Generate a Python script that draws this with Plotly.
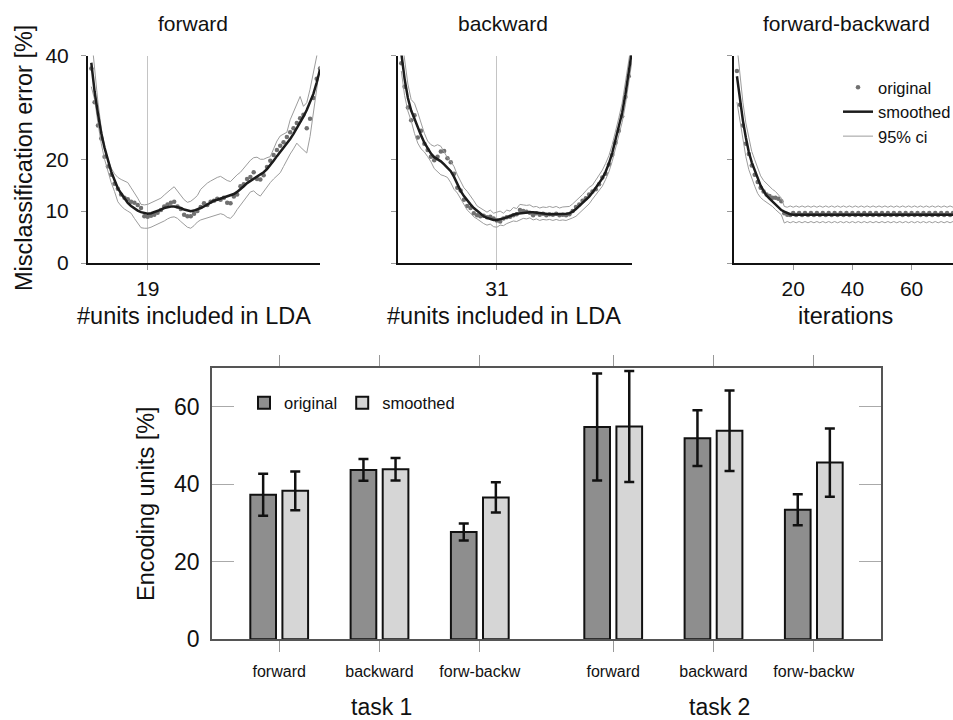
import plotly.graph_objects as go

# ---------------- data: top panels ----------------
fw_units = list(range(2, 72))
fw_original = [37.5, 31.0, 26.5, 24.0, 20.5, 18.6, 17.0, 15.3, 14.3, 13.2,
               12.6, 12.3, 11.8, 11.6, 11.2, 10.6, 9.0, 8.9, 9.1, 9.3,
               9.7, 10.2, 10.9, 11.3, 11.6, 11.8, 10.9, 10.4, 9.3, 9.0,
               9.0, 9.5, 10.0, 10.8, 11.5, 11.2, 11.8, 12.0, 12.4, 12.2,
               12.6, 11.6, 11.5, 12.8, 13.2, 14.8, 15.2, 16.2, 16.6, 17.5,
               16.2, 16.1, 16.9, 18.5, 19.7, 20.8, 21.8, 22.6, 23.3, 24.3,
               25.2, 26.0, 27.0, 27.9, 28.6, 26.0, 27.8, 31.8, 35.5, 37.5]
fw_smoothed = [38.6, 33.0, 28.8, 25.0, 22.2, 19.8, 17.6, 16.0, 14.4, 13.4,
               12.4, 11.6, 11.0, 10.5, 10.1, 9.8, 9.6, 9.5, 9.6, 9.8,
               10.0, 10.3, 10.6, 10.8, 10.9, 10.9, 10.8, 10.6, 10.3, 10.1,
               10.0, 10.1, 10.3, 10.6, 10.9, 11.3, 11.7, 12.0, 12.2, 12.4,
               12.6, 12.8, 13.0, 13.3, 13.7, 14.2, 14.8, 15.4, 15.8, 16.2,
               16.6, 17.0, 17.5, 18.1, 18.8, 19.7, 20.6, 21.4, 22.2, 23.0,
               23.9, 24.9, 26.0, 27.0, 28.2, 29.5, 30.9, 32.6, 34.8, 37.3]
fw_ci_upper = [44.0, 37.0, 31.0, 26.0, 22.5, 20.0, 18.3, 17.2, 16.5, 16.1,
               15.8, 15.5, 14.5, 13.6, 12.5, 11.3, 11.2, 11.3, 11.6, 11.9,
               12.2, 12.5, 13.1, 13.7, 14.2, 14.7, 13.8, 12.9, 12.2, 11.7,
               11.9, 12.4, 13.0, 14.2, 14.8, 15.4, 15.8, 16.2, 16.5, 16.7,
               16.3, 15.9, 15.7, 16.4, 17.0, 17.5, 18.3, 19.2, 19.8, 20.3,
               20.4, 20.0, 20.0, 20.3, 20.5, 22.0, 23.5, 24.5, 24.8, 25.2,
               27.6, 29.2, 30.8, 32.1, 30.2, 30.9, 33.5, 36.5, 39.9, 43.0]
fw_ci_lower = [34.0, 31.5, 27.0, 23.0, 20.0, 17.5, 15.5, 13.8, 11.8, 11.0,
               10.4, 10.0, 9.6, 8.6, 7.6, 6.8, 6.7, 6.7, 6.9, 7.2,
               7.5, 7.7, 8.1, 8.5, 8.8, 8.9, 8.6, 8.0, 7.4, 6.9,
               6.7, 7.2, 7.9, 8.3, 8.5, 8.7, 8.9, 9.1, 9.3, 9.5,
               9.3, 8.8, 8.6, 9.3, 10.3, 11.2, 12.1, 13.0, 13.7, 13.9,
               13.3, 12.9, 13.8, 14.8, 15.5, 16.2, 16.8, 17.4, 18.6, 19.9,
               21.0, 22.0, 23.1, 22.4, 21.8, 21.2, 24.4, 29.0, 34.0, 38.0]

bw_units = list(range(2, 73))
bw_original = [38.5, 34.0, 30.0, 27.5, 28.5, 24.2, 25.5, 23.0, 21.8, 20.5,
               19.8, 20.5, 21.5, 21.6, 20.2, 19.4, 17.2, 14.5, 14.0, 12.2,
               11.0, 10.6, 9.6, 9.2, 9.0, 9.1, 8.8, 8.9, 8.6, 8.2,
               8.0, 8.6, 8.8, 8.9, 9.2, 9.4, 10.2, 10.0, 9.9, 9.7,
               9.2, 9.6, 9.3, 9.5, 9.2, 9.4, 9.3, 9.5, 9.2, 9.3,
               9.2, 9.4, 10.0, 10.8, 11.3, 12.0, 12.5, 13.2, 13.8, 14.2,
               15.2, 16.5, 17.2, 19.0, 20.8, 23.2, 25.5, 28.3, 32.0, 36.0,
               40.0]
bw_smoothed = [40.5, 35.5, 31.8, 29.4, 27.8, 26.0, 24.6, 23.2, 22.0, 21.1,
               20.4, 20.0, 19.6, 19.0, 18.4, 17.7, 16.6, 15.2, 13.9, 12.9,
               12.0, 11.3, 10.6, 10.0, 9.5, 9.0, 8.7, 8.5, 8.3, 8.3,
               8.4, 8.6, 8.8, 9.1, 9.3, 9.5, 9.6, 9.7, 9.8, 9.8,
               9.8, 9.7, 9.6, 9.5, 9.4, 9.4, 9.4, 9.4, 9.4, 9.4,
               9.5, 9.6, 9.9, 10.4, 11.0, 11.6, 12.2, 12.8, 13.6, 14.5,
               15.3, 16.3, 17.6, 19.2, 21.2, 23.6, 26.2, 28.9, 32.5, 36.5,
               41.0]
bw_ci_upper = [44.0, 39.0, 34.5, 31.5, 30.8, 29.0, 27.0, 25.0, 23.5, 22.8,
               22.5, 22.8, 22.5, 21.5, 20.3, 19.6, 18.6, 17.0, 15.6, 14.5,
               13.8, 13.0, 12.0, 11.0, 10.6, 10.2, 9.8, 10.2, 9.6, 9.8,
               10.0, 9.6, 10.2, 10.0, 10.7, 10.5, 11.3, 11.2, 11.1, 11.2,
               10.8, 10.9, 10.6, 10.8, 10.7, 10.9, 10.7, 10.9, 10.6, 10.8,
               10.8, 10.9, 11.4, 12.0, 12.5, 13.2, 13.9, 14.6, 15.0, 15.9,
               16.8, 17.9, 19.2, 20.7, 22.8, 25.2, 28.0, 30.8, 34.5, 38.6,
               43.0]
bw_ci_lower = [37.0, 32.3, 29.3, 27.4, 25.0, 23.1, 22.0, 21.4, 20.5, 19.5,
               18.2, 17.6, 17.0, 16.8, 16.5, 15.5, 14.2, 13.5, 12.3, 11.4,
               10.2, 9.6, 8.9, 8.5, 8.0, 7.6, 7.3, 7.5, 7.0, 6.9,
               7.3, 7.2, 7.6, 7.8, 8.1, 8.0, 8.3, 8.6, 8.5, 8.7,
               8.3, 8.5, 8.2, 8.4, 8.3, 8.4, 8.2, 8.4, 8.2, 8.3,
               8.2, 8.4, 8.7, 9.0, 9.6, 10.2, 10.8, 11.4, 12.3, 13.2,
               14.0, 14.8, 16.1, 17.6, 19.6, 22.0, 24.5, 27.1, 30.5, 34.4,
               39.0]

fb_iter = list(range(1, 75))
fb_original = [37.0, 30.5, 26.5, 23.0, 21.0, 18.8, 17.0, 15.6, 14.5, 13.8,
               13.2, 12.9, 12.6, 12.6, 12.4, 11.9, 9.6, 9.3,
               9.25, 9.65, 9.25, 9.65, 9.25, 9.65, 9.25, 9.65,
               9.25, 9.65, 9.25, 9.65, 9.25, 9.65, 9.25, 9.65,
               9.25, 9.65, 9.25, 9.65, 9.25, 9.65, 9.25, 9.65,
               9.25, 9.65, 9.25, 9.65, 9.25, 9.65, 9.25, 9.65,
               9.25, 9.65, 9.25, 9.65, 9.25, 9.65, 9.25, 9.65,
               9.25, 9.65, 9.25, 9.65, 9.25, 9.65, 9.25, 9.65,
               9.25, 9.65, 9.25, 9.65, 9.25, 9.65, 9.25, 9.65]
fb_smoothed = [36.0, 31.5, 27.5, 24.2, 21.4, 19.4, 17.8, 16.2, 14.9, 13.9,
               13.0, 12.4, 11.8, 11.2, 10.7, 10.2, 9.9, 9.6, 9.4, 9.3,
               9.3, 9.3, 9.3, 9.3, 9.3, 9.3, 9.3, 9.3, 9.3,
               9.3, 9.3, 9.3, 9.3, 9.3, 9.3, 9.3, 9.3, 9.3,
               9.3, 9.3, 9.3, 9.3, 9.3, 9.3, 9.3, 9.3, 9.3,
               9.3, 9.3, 9.3, 9.3, 9.3, 9.3, 9.3, 9.3, 9.3,
               9.3, 9.3, 9.3, 9.3, 9.3, 9.3, 9.3, 9.3, 9.3,
               9.3, 9.3, 9.3, 9.3, 9.3, 9.3, 9.3, 9.3, 9.3]
fb_ci_upper = [42.0, 36.0, 31.0, 27.0, 24.0, 21.5, 19.9, 18.2, 16.8, 15.9,
               15.3, 14.7, 14.2, 13.8, 13.2, 12.5, 10.9,
               10.75, 11.0, 10.75, 11.0, 10.75, 11.0, 10.75, 11.0,
               10.75, 11.0, 10.75, 11.0, 10.75, 11.0, 10.75, 11.0,
               10.75, 11.0, 10.75, 11.0, 10.75, 11.0, 10.75, 11.0,
               10.75, 11.0, 10.75, 11.0, 10.75, 11.0, 10.75, 11.0,
               10.75, 11.0, 10.75, 11.0, 10.75, 11.0, 10.75, 11.0,
               10.75, 11.0, 10.75, 11.0, 10.75, 11.0, 10.75, 11.0,
               10.75, 11.0, 10.75, 11.0, 10.75, 11.0, 10.75, 11.0,
               10.75]
fb_ci_lower = [31.0, 27.5, 24.0, 20.5, 18.0, 16.2, 14.8, 13.4, 12.6, 12.1,
               11.7, 11.3, 10.9, 10.3, 9.8, 9.3, 7.7,
               8.0, 7.75, 8.0, 7.75, 8.0, 7.75, 8.0, 7.75,
               8.0, 7.75, 8.0, 7.75, 8.0, 7.75, 8.0, 7.75,
               8.0, 7.75, 8.0, 7.75, 8.0, 7.75, 8.0, 7.75,
               8.0, 7.75, 8.0, 7.75, 8.0, 7.75, 8.0, 7.75,
               8.0, 7.75, 8.0, 7.75, 8.0, 7.75, 8.0, 7.75,
               8.0, 7.75, 8.0, 7.75, 8.0, 7.75, 8.0, 7.75,
               8.0, 7.75, 8.0, 7.75, 8.0, 7.75, 8.0, 7.75,
               8.0]

panel_titles = ["forward", "backward", "forward-backward"]
panel_xlabels = ["#units included in LDA", "#units included in LDA", "iterations"]
top_yticks = [0, 10, 20, 40]

# ---------------- data: bar chart ----------------
bar_categories = ["forward", "backward", "forw-backw", "forward", "backward", "forw-backw"]
task_names = ["task 1", "task 2"]
orig_pct = [37.3, 43.7, 27.7, 54.8, 51.9, 33.4]
orig_err = [5.4, 2.8, 2.2, 13.8, 7.2, 4.0]
smooth_pct = [38.3, 43.9, 36.6, 54.9, 53.8, 45.6]
smooth_err = [5.0, 2.9, 3.9, 14.3, 10.4, 8.8]
bar_yticks = [0, 20, 40, 60]

# ---------------- layout helpers ----------------
W, H = 953, 720
FONT = "Liberation Sans, Arial, Helvetica, sans-serif"


def fx(p):
    return p / W


def fy(p):
    return 1 - p / H


DOT = "#707070"
SMOOTH = "#1c1c1c"
CI = "#9c9c9c"

fig = go.Figure()

panels = [
    (fw_units, fw_original, fw_smoothed, fw_ci_upper, fw_ci_lower),
    (bw_units, bw_original, bw_smoothed, bw_ci_upper, bw_ci_lower),
    (fb_iter, fb_original, fb_smoothed, fb_ci_upper, fb_ci_lower),
]
for i, (xs, orig, sm, up, lo) in enumerate(panels):
    xa = "x" if i == 0 else f"x{i + 1}"
    ya = "y" if i == 0 else f"y{i + 1}"
    show = i == 2
    fig.add_trace(go.Scatter(x=xs, y=orig, mode="markers", name="original",
                             marker=dict(size=4.5, color=DOT), showlegend=show,
                             legendrank=1, legendgroup="orig", xaxis=xa, yaxis=ya))
    fig.add_trace(go.Scatter(x=xs, y=up, mode="lines", name="95% ci",
                             line=dict(color=CI, width=1), showlegend=show,
                             legendrank=3, legendgroup="ci", xaxis=xa, yaxis=ya))
    fig.add_trace(go.Scatter(x=xs, y=lo, mode="lines", name="95% ci",
                             line=dict(color=CI, width=1), showlegend=False,
                             legendgroup="ci", xaxis=xa, yaxis=ya))
    fig.add_trace(go.Scatter(x=xs, y=sm, mode="lines", name="smoothed",
                             line=dict(color=SMOOTH, width=2.5), showlegend=show,
                             legendrank=2, legendgroup="sm", xaxis=xa, yaxis=ya))

# bar chart
x_pos = [k + 1 + 0.33 * (k // 3) for k in range(len(bar_categories))]
fig.add_trace(go.Bar(x=x_pos, y=orig_pct, name="original", legend="legend2",
                     marker=dict(color="#8e8e8e", line=dict(color="#111", width=2)),
                     error_y=dict(type="data", array=orig_err, color="#111",
                                  thickness=2.5, width=5),
                     xaxis="x4", yaxis="y4"))
fig.add_trace(go.Bar(x=x_pos, y=smooth_pct, name="smoothed", legend="legend2",
                     marker=dict(color="#d6d6d6", line=dict(color="#111", width=2)),
                     error_y=dict(type="data", array=smooth_err, color="#111",
                                  thickness=2.5, width=5),
                     xaxis="x4", yaxis="y4"))

top_dom_y = [fy(263), fy(55.5)]
x_doms = [[fx(88), fx(320)], [fx(398), fx(632)], [fx(734), fx(953)]]
x_ranges = [[1, 71], [1, 72], [0, 74]]
x_ticks = [[19], [31], [20, 40, 60]]

layout = dict(
    width=W, height=H,
    margin=dict(l=0, r=0, t=0, b=0, autoexpand=False),
    paper_bgcolor="white", plot_bgcolor="white",
    font=dict(family=FONT, color="#111"),
    barmode="group", bargap=0.36, bargroupgap=0.2,
    showlegend=True,
    legend=dict(x=fx(838), y=fy(70), xanchor="left", yanchor="top",
                bgcolor="rgba(0,0,0,0)", font=dict(size=16.5, family=FONT),
                traceorder="normal", tracegroupgap=0),
    legend2=dict(x=fx(244), y=fy(403), xanchor="left", yanchor="middle",
                 orientation="h", bgcolor="rgba(0,0,0,0)",
                 font=dict(size=16.5, family=FONT)),
)

for i in range(3):
    k = "" if i == 0 else str(i + 1)
    layout["xaxis" + k] = dict(
        domain=x_doms[i], anchor="y" + k, range=x_ranges[i], automargin=False,
        tickvals=x_ticks[i], ticks="outside", ticklen=5, tickcolor="#999",
        showline=True, linecolor="#111", linewidth=2,
        showgrid=(i < 2), gridcolor="#c4c4c4", gridwidth=1, zeroline=False,
        tickfont=dict(size=21), ticklabelstandoff=1,
    )
    layout["yaxis" + k] = dict(
        domain=top_dom_y, anchor="x" + k, range=[0, 40], automargin=False,
        tickvals=top_yticks, ticks="outside", ticklen=5, tickcolor="#999",
        showline=True, linecolor="#111", linewidth=2, showgrid=False,
        zeroline=False, showticklabels=(i == 0), tickfont=dict(size=21),
        ticklabelstandoff=8,
    )

layout["xaxis4"] = dict(
    domain=[fx(212), fx(881)], anchor="y4", range=[0.33, 7.0], automargin=False,
    tickvals=x_pos, ticktext=bar_categories, ticks="outside", ticklen=11,
    tickcolor="#999", mirror="ticks", showline=True, linecolor="#555",
    linewidth=1.5, showgrid=False, zeroline=False, tickfont=dict(size=16),
    ticklabelstandoff=6,
)
layout["yaxis4"] = dict(
    domain=[fy(639.3), fy(368)], anchor="x4", range=[0, 70], automargin=False,
    tickvals=bar_yticks, ticks="inside", ticklen=22, tickcolor="#aaa",
    mirror="ticks", showline=True, linecolor="#555", linewidth=1.5,
    showgrid=False, zeroline=False, tickfont=dict(size=23),
    ticklabelstandoff=6,
)

annotations = []
title_x = [192.5, 502.5, 846]
xlabel_x = [194, 503.5, 845.5]
for i in range(3):
    annotations.append(dict(text=panel_titles[i], x=fx(title_x[i]), y=fy(23),
                            xref="paper", yref="paper", showarrow=False,
                            xanchor="center", yanchor="middle",
                            font=dict(size=21, family=FONT)))
    annotations.append(dict(text=panel_xlabels[i], x=fx(xlabel_x[i]), y=fy(316),
                            xref="paper", yref="paper", showarrow=False,
                            xanchor="center", yanchor="middle",
                            font=dict(size=23.5, family=FONT)))
annotations.append(dict(text="Misclassification error [%]", x=fx(24), y=fy(158),
                        xref="paper", yref="paper", showarrow=False, textangle=-90,
                        xanchor="center", yanchor="middle",
                        font=dict(size=23.5, family=FONT)))
annotations.append(dict(text="Encoding units [%]", x=fx(146), y=fy(504),
                        xref="paper", yref="paper", showarrow=False, textangle=-90,
                        xanchor="center", yanchor="middle",
                        font=dict(size=23.5, family=FONT)))
for name, cx in zip(task_names, [381.7, 719]):
    annotations.append(dict(text=name, x=fx(cx), y=fy(707), xref="paper",
                            yref="paper", showarrow=False, xanchor="center",
                            yanchor="middle", font=dict(size=23, family=FONT)))
layout["annotations"] = annotations

fig.update_layout(**layout)
fig.write_html("out.html")
